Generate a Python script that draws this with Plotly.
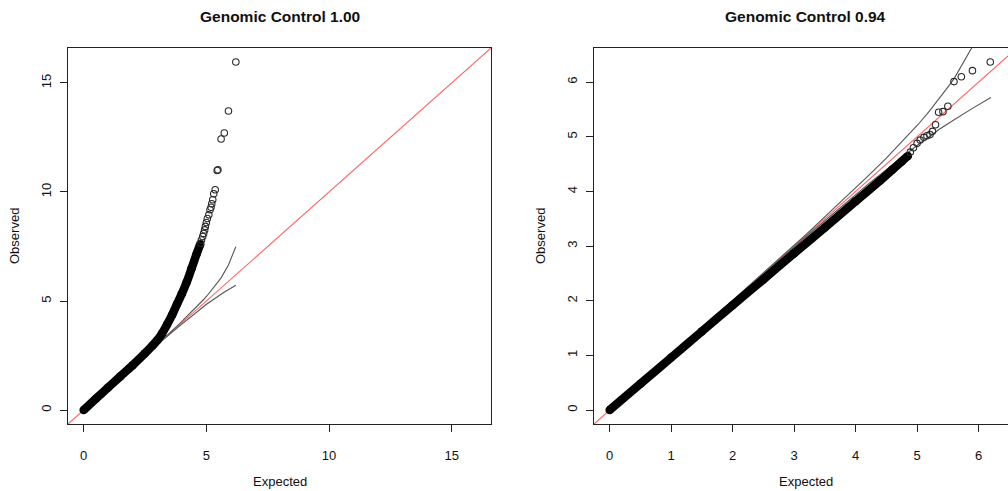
import plotly.graph_objects as go

# ---------------- data: expected vs observed -log10(p) ----------------
# Panel 1: genomic control lambda = 1.00
gc100_body_exp = [0.0, 0.5, 1.0, 1.5, 2.0, 2.5, 2.8, 3.0, 3.2, 3.4, 3.6, 3.8, 4.0, 4.2, 4.4, 4.6, 4.75]
gc100_body_obs = [0.0, 0.52, 1.04, 1.55, 2.06, 2.6, 2.95, 3.2, 3.52, 3.92, 4.35, 4.85, 5.33, 5.87, 6.5, 7.15, 7.6]
gc100_tail_exp = [4.76, 4.80, 4.85, 4.89, 4.93, 4.96, 5.0, 5.04, 5.1, 5.15, 5.19, 5.22, 5.26, 5.3, 5.36,
                  5.44, 5.47, 5.6, 5.73, 5.9, 6.2]
gc100_tail_obs = [7.65, 7.8, 7.96, 8.1, 8.26, 8.42, 8.6, 8.78, 8.95, 9.18, 9.3, 9.46, 9.64, 9.92, 10.1,
                  10.98, 11.02, 12.43, 12.7, 13.71, 15.96]

# Panel 2: genomic control lambda = 0.94
gc094_body_exp = [0.0, 0.5, 1.0, 1.5, 2.0, 2.5, 3.0, 3.5, 4.0, 4.4, 4.6, 4.75, 4.85]
gc094_body_obs = [0.0, 0.48, 0.96, 1.44, 1.92, 2.39, 2.87, 3.34, 3.82, 4.2, 4.4, 4.55, 4.65]
gc094_tail_exp = [4.89, 4.94, 5.0, 5.05, 5.11, 5.16, 5.21, 5.25, 5.30, 5.35, 5.42, 5.50, 5.60, 5.72, 5.90, 6.19]
gc094_tail_obs = [4.72, 4.80, 4.88, 4.94, 4.99, 5.02, 5.04, 5.10, 5.22, 5.45, 5.46, 5.56, 6.01, 6.10, 6.21, 6.37]

# 90% confidence band of the expected order statistics
ci_exp = [0.0, 1.2, 3.2, 3.9, 4.2, 4.5, 4.72, 4.9, 5.02, 5.2, 5.35, 5.5, 5.6, 5.72, 5.9, 6.2]
ci_upper = [0.0, 1.2, 3.22, 3.95, 4.28, 4.61, 4.87, 5.08, 5.23, 5.47, 5.68, 5.91, 6.06, 6.29, 6.65, 7.49]
ci_lower = [0.0, 1.2, 3.18, 3.85, 4.13, 4.40, 4.60, 4.75, 4.86, 5.0, 5.13, 5.24, 5.31, 5.40, 5.52, 5.72]

titles = ["Genomic Control 1.00", "Genomic Control 0.94"]
xticks_1 = [0, 5, 10, 15]
xticks_2 = [0, 1, 2, 3, 4, 5, 6]

# ---------------- layout geometry (pixels) ----------------
W, H = 1008, 491
PANEL_W = 423
TOP, BOTTOM = 48, 424
LEFT1, LEFT2 = 68, 594
FONT = "Liberation Sans, Arial, Helvetica, sans-serif"


def limits(obs, exp):
    # square limits from 0 to the largest value, padded 4% on each side
    lim = max(max(obs), max(exp))
    pad = 0.04 * lim
    return -pad, lim + pad


lo1, hi1 = limits(gc100_tail_obs + gc100_body_obs, gc100_tail_exp + gc100_body_exp)
lo2, hi2 = limits(gc094_tail_obs + gc094_body_obs, gc094_tail_exp + gc094_body_exp)
# right panel is clipped by the page edge
x2_vis = lo2 + (W - LEFT2) / PANEL_W * (hi2 - lo2)

fig = go.Figure()

RED = "rgba(255,40,40,0.75)"
CI_COL = "#555555"


def add_panel(body_x, body_y, tail_x, tail_y, lo, hi, xa, ya):
    # identity line
    fig.add_trace(go.Scatter(x=[lo, hi], y=[lo, hi], mode="lines",
                             line=dict(color=RED, width=1.1), xaxis=xa, yaxis=ya, hoverinfo="skip"))
    # confidence band
    for ci in (ci_upper, ci_lower):
        fig.add_trace(go.Scatter(x=ci_exp, y=ci, mode="lines",
                                 line=dict(color=CI_COL, width=1.1), xaxis=xa, yaxis=ya))
    # dense body of overlapping points
    fig.add_trace(go.Scatter(x=body_x, y=body_y, mode="lines+markers",
                             line=dict(color="black", width=8.5, shape="spline", smoothing=0.8),
                             marker=dict(color="black", size=8.5),
                             xaxis=xa, yaxis=ya))
    # individual tail points
    fig.add_trace(go.Scatter(x=tail_x, y=tail_y, mode="markers",
                             marker=dict(symbol="circle-open", size=6.5, color="#2a2a2a",
                                         line=dict(width=1.1)),
                             xaxis=xa, yaxis=ya))


add_panel(gc100_body_exp, gc100_body_obs, gc100_tail_exp, gc100_tail_obs, lo1, hi1, "x", "y")
add_panel(gc094_body_exp, gc094_body_obs, gc094_tail_exp, gc094_tail_obs, lo2, hi2, "x2", "y2")

axis_common = dict(showline=True, linecolor="#222", linewidth=1, ticks="outside", ticklen=7,
                   tickwidth=1, tickcolor="#222", showgrid=False, zeroline=False,
                   tickfont=dict(family=FONT, size=13, color="#111"), fixedrange=True)

ydom = [(H - BOTTOM) / H, (H - TOP) / H]

fig.update_layout(
    width=W, height=H,
    margin=dict(l=0, r=0, t=0, b=0),
    paper_bgcolor="white", plot_bgcolor="white",
    showlegend=False,
    font=dict(family=FONT, color="#111"),
    xaxis=dict(axis_common, domain=[LEFT1 / W, (LEFT1 + PANEL_W) / W], range=[lo1, hi1],
               tickvals=xticks_1, mirror=True, anchor="y", ticklabelstandoff=12),
    yaxis=dict(axis_common, domain=ydom, range=[lo1, hi1], tickvals=xticks_1,
               tickangle=-90, mirror=True, anchor="x", ticklabelstandoff=4),
    xaxis2=dict(axis_common, domain=[LEFT2 / W, 1.0], range=[lo2, x2_vis],
                tickvals=xticks_2, mirror=True, anchor="y2", ticklabelstandoff=12),
    yaxis2=dict(axis_common, domain=ydom, range=[lo2, hi2], tickvals=xticks_2,
                tickangle=-90, mirror=False, anchor="x2", ticklabelstandoff=4),
)

# titles and axis labels
centers = [LEFT1 + PANEL_W / 2, LEFT2 + PANEL_W / 2]
ylab_x = [15, 541]
mid_y = (TOP + BOTTOM) / 2
for cx, ly, t in zip(centers, ylab_x, titles):
    fig.add_annotation(text="<b>%s</b>" % t, x=cx / W, y=(H - 17) / H, xref="paper", yref="paper",
                       showarrow=False, font=dict(family=FONT, size=15.5, color="#111"),
                       xanchor="center", yanchor="middle")
    fig.add_annotation(text="Expected", x=cx / W, y=(H - 481) / H, xref="paper", yref="paper",
                       showarrow=False, font=dict(family=FONT, size=13, color="#111"),
                       xanchor="center", yanchor="middle")
    fig.add_annotation(text="Observed", x=ly / W, y=(H - mid_y) / H, xref="paper", yref="paper",
                       showarrow=False, textangle=-90, font=dict(family=FONT, size=13, color="#111"),
                       xanchor="center", yanchor="middle")

fig.write_html("out.html")
